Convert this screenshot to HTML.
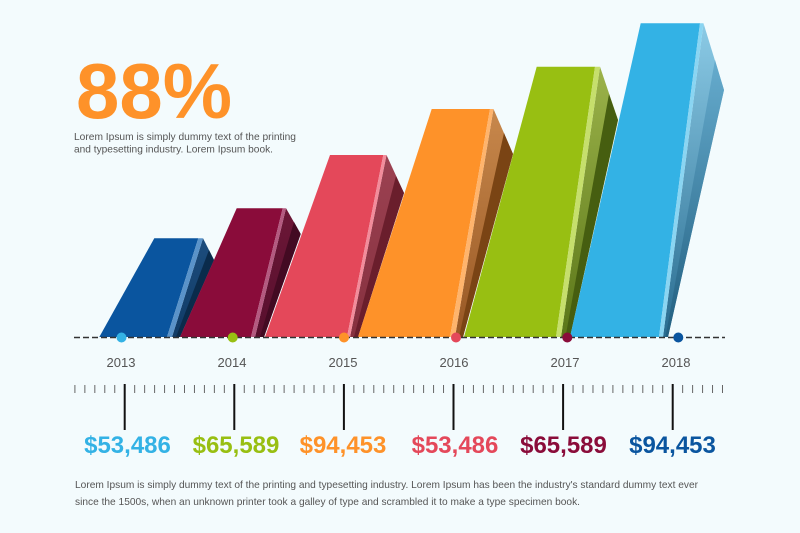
<!DOCTYPE html>
<html>
<head>
<meta charset="utf-8">
<style>
  html,body{margin:0;padding:0;background:#f3fbfd;}
  svg{display:block;}
  text{font-family:"Liberation Sans",Arial,sans-serif;}
</style>
</head>
<body>
<svg width="800" height="533" viewBox="0 0 800 533" xmlns="http://www.w3.org/2000/svg">
  <defs>
    <linearGradient id="s1" gradientUnits="userSpaceOnUse" x1="0" y1="238" x2="0" y2="337"><stop offset="0" stop-color="#1d4d7d"/><stop offset="1" stop-color="#103b66"/></linearGradient>
    <linearGradient id="s2" gradientUnits="userSpaceOnUse" x1="0" y1="208" x2="0" y2="337"><stop offset="0" stop-color="#6c1737"/><stop offset="1" stop-color="#580f2d"/></linearGradient>
    <linearGradient id="s3" gradientUnits="userSpaceOnUse" x1="0" y1="155" x2="0" y2="337"><stop offset="0" stop-color="#9c4252"/><stop offset="1" stop-color="#86303f"/></linearGradient>
    <linearGradient id="s4" gradientUnits="userSpaceOnUse" x1="0" y1="109" x2="0" y2="337"><stop offset="0" stop-color="#c8884c"/><stop offset="1" stop-color="#985824"/></linearGradient>
    <linearGradient id="s5" gradientUnits="userSpaceOnUse" x1="0" y1="67" x2="0" y2="337"><stop offset="0" stop-color="#9cb34a"/><stop offset="1" stop-color="#5a7618"/></linearGradient>
    <linearGradient id="s6" gradientUnits="userSpaceOnUse" x1="0" y1="23" x2="0" y2="337"><stop offset="0" stop-color="#8ccbe6"/><stop offset="1" stop-color="#296c90"/></linearGradient>
    <linearGradient id="b6" gradientUnits="userSpaceOnUse" x1="0" y1="23" x2="0" y2="337"><stop offset="0" stop-color="#6fb6d8"/><stop offset="1" stop-color="#225f80"/></linearGradient>
  </defs>

  <rect width="800" height="533" fill="#f3fbfd"/>

  <!-- Bar 1 (2013) -->
  <polygon points="172,337 203,238.3 214,260 180,337" fill="url(#s1)"/>
  <polygon points="209,250 214,260 180,337 176,337" fill="#0a2b4b"/>
  <polygon points="99.3,337 154.3,238.3 198.3,238.3 167,337" fill="#0a559f"/>
  <polygon points="167,337 198.3,238.3 203,238.3 172,337" fill="#5a93c9"/>

  <!-- Bar 2 (2014) -->
  <polygon points="255,337 286,208.3 300.7,234 264,337" fill="url(#s2)"/>
  <polygon points="294,222 300.7,234 264,337 260,337" fill="#430a22"/>
  <polygon points="180,337 236.7,208.3 282.7,208.3 251,337" fill="#8a0c3a"/>
  <polygon points="251,337 282.7,208.3 286,208.3 255,337" fill="#b45a80"/>

  <!-- Bar 3 (2015) -->
  <polygon points="350,337 386.5,155 404,193 358,337" fill="url(#s3)"/>
  <polygon points="396,176 404,193 358,337 354,337" fill="#6a1e2c"/>
  <polygon points="265,337 330,155 383.3,155 347,337" fill="#e4485a"/>
  <polygon points="347,337 383.3,155 386.5,155 350,337" fill="#f38c9b"/>

  <!-- Bar 4 (2016) -->
  <polygon points="455,337 493.5,109 513,154 463,337" fill="url(#s4)"/>
  <polygon points="504,133 513,154 463,337 459,337" fill="#7a4414"/>
  <polygon points="358,337 431.7,109 490,109 450,337" fill="#fe9229"/>
  <polygon points="450,337 490,109 493.5,109 455,337" fill="#ffb46c"/>

  <!-- Bar 5 (2017) -->
  <polygon points="561,337 600,66.7 618,120 570,337" fill="url(#s5)"/>
  <polygon points="609,94 618,120 570,337 565.5,337" fill="#465e10"/>
  <polygon points="464,337 536.7,66.7 595,66.7 556,337" fill="#98bf12"/>
  <polygon points="556,337 595,66.7 600,66.7 561,337" fill="#c6df6c"/>

  <!-- Bar 6 (2018) -->
  <polygon points="663,337 703.5,23.3 724,90 668,337" fill="url(#s6)"/>
  <polygon points="715,60 724,90 668,337 665.5,337" fill="url(#b6)"/>
  <polygon points="570,337 640.7,23.3 700,23.3 659,337" fill="#33b2e5"/>
  <polygon points="659,337 700,23.3 703.5,23.3 663,337" fill="#8ad5f2"/>

  <!-- dashed baseline -->
  <line x1="74" y1="337.5" x2="725" y2="337.5" stroke="#333" stroke-width="1.5" stroke-dasharray="6 3"/>

  <!-- dots -->
  <circle cx="121.5" cy="337.5" r="5" fill="#33b2e5"/>
  <circle cx="232.7" cy="337.5" r="5" fill="#98bf12"/>
  <circle cx="344" cy="337.5" r="5" fill="#fe9229"/>
  <circle cx="456" cy="337.5" r="5" fill="#e4485a"/>
  <circle cx="567.3" cy="337.5" r="5" fill="#8a0c3a"/>
  <circle cx="678.3" cy="337.5" r="5" fill="#0a559f"/>

  <!-- headline -->
  <text x="76" y="118" font-size="78" font-weight="bold" fill="#fe9229" textLength="156" lengthAdjust="spacingAndGlyphs">88%</text>
  <text x="74" y="140" font-size="10.5" fill="#555" textLength="222" lengthAdjust="spacingAndGlyphs">Lorem Ipsum is simply dummy text of the printing</text>
  <text x="74" y="152.5" font-size="10.5" fill="#555" textLength="199" lengthAdjust="spacingAndGlyphs">and typesetting industry. Lorem Ipsum book.</text>

  <!-- years -->
  <g font-size="13" fill="#555" text-anchor="middle">
    <text x="121" y="367">2013</text>
    <text x="232" y="367">2014</text>
    <text x="343" y="367">2015</text>
    <text x="454" y="367">2016</text>
    <text x="565" y="367">2017</text>
    <text x="676" y="367">2018</text>
  </g>

  <!-- minor ticks -->
  <line x1="74.4" y1="389" x2="723.5" y2="389" stroke="#666" stroke-width="8" stroke-dasharray="1 8.963"/>
  <!-- major ticks -->
  <g stroke="#111" stroke-width="2">
    <line x1="124.7" y1="384" x2="124.7" y2="430"/>
    <line x1="234.3" y1="384" x2="234.3" y2="430"/>
    <line x1="343.9" y1="384" x2="343.9" y2="430"/>
    <line x1="453.5" y1="384" x2="453.5" y2="430"/>
    <line x1="563.1" y1="384" x2="563.1" y2="430"/>
    <line x1="672.7" y1="384" x2="672.7" y2="430"/>
  </g>

  <!-- values -->
  <g font-size="24" font-weight="bold" text-anchor="middle">
    <text x="127.5" y="453" fill="#33b2e5">$53,486</text>
    <text x="236" y="453" fill="#98bf12">$65,589</text>
    <text x="343" y="453" fill="#fe9229">$94,453</text>
    <text x="455" y="453" fill="#e4485a">$53,486</text>
    <text x="563.5" y="453" fill="#8a0c3a">$65,589</text>
    <text x="672.5" y="453" fill="#0a559f">$94,453</text>
  </g>

  <!-- bottom paragraph -->
  <text x="75" y="488" font-size="10.5" fill="#555" textLength="623" lengthAdjust="spacingAndGlyphs">Lorem Ipsum is simply dummy text of the printing and typesetting industry. Lorem Ipsum has been the industry's standard dummy text ever</text>
  <text x="75" y="505" font-size="10.5" fill="#555" textLength="505" lengthAdjust="spacingAndGlyphs">since the 1500s, when an unknown printer took a galley of type and scrambled it to make a type specimen book.</text>
</svg>
</body>
</html>
